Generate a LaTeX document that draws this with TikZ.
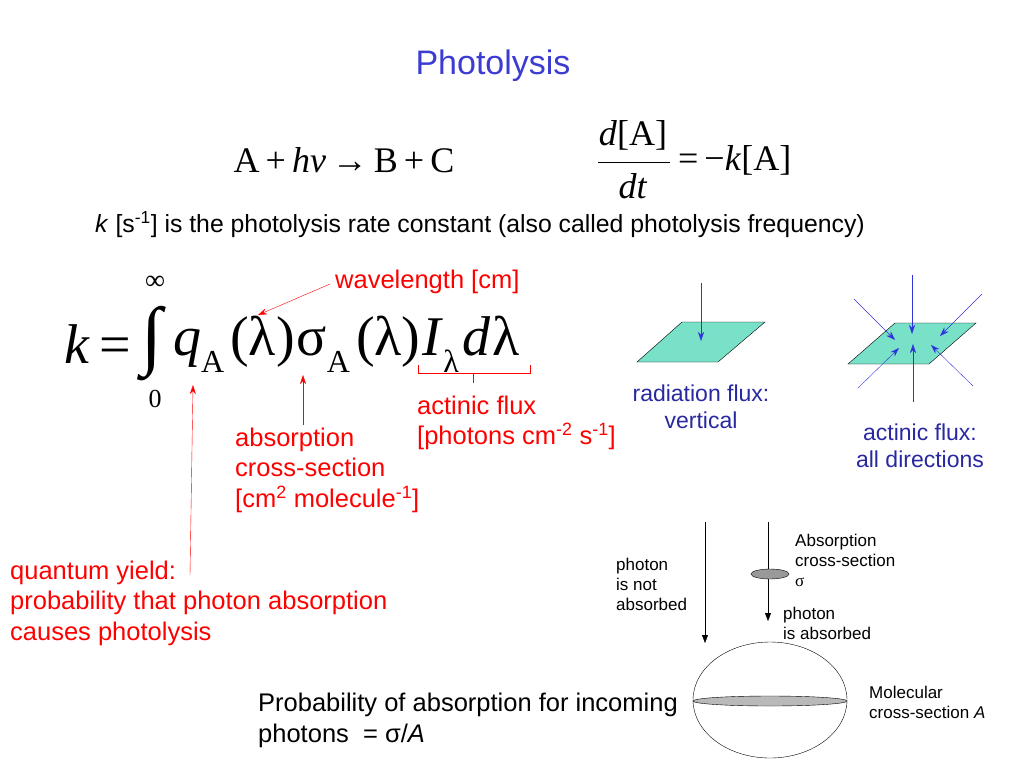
\documentclass[tikz,border=0pt]{standalone}
\usepackage{fontspec}
\setmainfont{Liberation Sans}
\newfontfamily\tms{Liberation Serif}
\usetikzlibrary{arrows.meta}
\definecolor{ttlblue}{RGB}{60,60,210}
\definecolor{fluxblue}{RGB}{40,40,160}
\definecolor{arrblue}{RGB}{50,50,220}
\definecolor{plate}{RGB}{120,225,200}
\newcommand{\lowsub}[1]{\raisebox{-0.3em}{\fontsize{32}{32}\selectfont #1}}
\tikzset{
  lbl/.style={anchor=west, align=left, inner sep=0pt},
  eq/.style={inner sep=0pt, font=\tms\fontsize{36}{40}\selectfont},
  bigeq/.style={anchor=west, inner sep=0pt, font=\tms\fontsize{56}{60}\selectfont},
  redlbl/.style={lbl, text=red, font=\fontsize{25.5}{30.5}\selectfont},
  small/.style={lbl, font=\fontsize{17}{20}\selectfont},
  fluxlbl/.style={align=center, inner sep=0pt, text=fluxblue, font=\fontsize{23}{27}\selectfont},
  ray/.style={arrblue, -{Stealth[length=9pt,width=6pt]}},
  redarr/.style={red, -{Stealth[length=9pt,width=6pt]}},
  blk/.style={black, -{Triangle[length=8pt,width=6pt]}}
}
\begin{document}
\begin{tikzpicture}[x=1pt,y=-1pt]
\useasboundingbox (0,0) rectangle (1024,768);
\node (ttl) at (493,66) {\fontsize{34}{40}\selectfont\color{ttlblue}Photolysis};
\node[eq] (rxn) at (344,160) {A\,+\,\textit{hν}\,→\,B\,+\,C};
\node[eq] (dA) at (633,135) {\textit{d}[A]};
\node[eq] (dt) at (633,186) {\textit{dt}};
\draw (598,162) -- (670,162);
\node[eq, anchor=west] (rhs) at (678,160) {=\,−\textit{k}[A]};
\node[lbl] (kdef) at (95,225) {\fontsize{24.8}{28}\selectfont\textit{k} [s\textsuperscript{-1}] is the photolysis rate constant (also called photolysis frequency)};
% rate constant integral
\node[bigeq] (keq) at (64,344) {\textit{k}\,=};
\node[inner sep=0pt, font=\tms\fontsize{76}{76}\selectfont] (intg) at (152,344) {∫};
\node[inner sep=0pt, font=\tms\fontsize{28}{28}\selectfont] (inf) at (155,283) {∞};
\node[inner sep=0pt, font=\tms\fontsize{26}{26}\selectfont] (zero) at (155,399) {0};
\node[bigeq] (intgd) at (173,344) {\textit{q}\lowsub{A}\hspace{6pt}(λ)\hspace{2pt}σ\lowsub{A}\hspace{6pt}(λ)\hspace{2pt}\textit{I}\lowsub{λ}\hspace{4pt}\textit{d}\hspace{2pt}λ};
\node[redlbl] (wl) at (335,282) {wavelength [cm]};
\coordinate (lam) at (258,315);
\draw[redarr] (330,284) -- (lam);
\coordinate (sig) at (303,375);
\coordinate (phi) at (193,385);
\node[redlbl] (act) at (417,423) {actinic flux\\{}[photons cm\textsuperscript{-2} s\textsuperscript{-1}]};
\node[redlbl] (abs) at (235,470) {absorption\\cross-section\\{}[cm\textsuperscript{2} molecule\textsuperscript{-1}]};
\node[redlbl] (qy) at (10,603) {quantum yield:\\probability that photon absorption\\causes photolysis};
\draw[redarr] (303,425) -- (sig);
\draw[redarr] (190,575) -- (phi);
\draw[red] (418,365) -- (418,373) -- (530,373) -- (530,365) (473,373) -- (473,383);
% flux planes
\draw[fill=plate] (637,362) -- (682,322) -- (765,322) -- (718,362) -- cycle;
\draw[ray] (701,283) -- (701,341);
\node[fluxlbl] (rad) at (701,407) {radiation flux:\\vertical};
\draw[fill=plate] (848,364) -- (895,323) -- (976,323) -- (929,364) -- cycle;
\foreach \sx/\sy/\ex/\ey in {912/275/912/334, 982/294/940/336, 854/299/895/340, 858/388/899/348, 913/402/913/344, 973/386/931/345}
  \draw[ray] (\sx,\sy) -- (\ex,\ey);
\node[fluxlbl] (actin) at (920,446) {actinic flux:\\all directions};
% absorption picture
\draw (770,700) ellipse (77 and 58);
\draw[fill=gray!55] (770,701) ellipse (77 and 5);
\draw[blk] (705,522) -- (705,643);
\draw[blk] (768,522) -- (768,621);
\draw[fill=gray!80] (770,574) ellipse (19 and 5);
\node[small] (notabs) at (616,584) {photon\\is not\\absorbed};
\node[small] (sigl) at (795,560) {Absorption\\cross-section\\{\tms σ}};
\node[small] (isabs) at (783,623) {photon\\is absorbed};
\node[small] (mol) at (869,702) {Molecular\\cross-section \textit{A}};
\node[lbl, font=\fontsize{25.5}{31}\selectfont] (prob) at (258,720) {Probability of absorption for incoming\\photons \ = σ/\textit{A}};
\end{tikzpicture}
\end{document}
